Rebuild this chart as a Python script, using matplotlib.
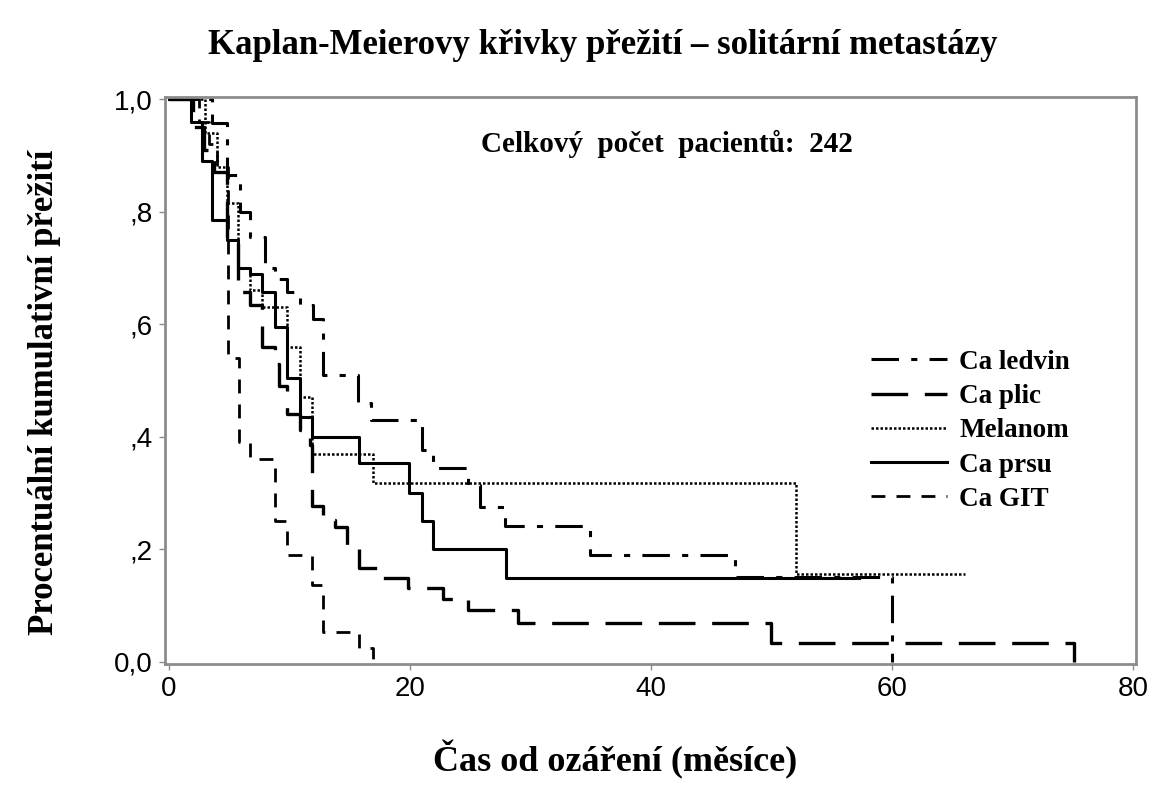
import matplotlib
matplotlib.use("Agg")
import matplotlib.pyplot as plt
from matplotlib.lines import Line2D

# Kaplan-Meier step curves: event times (months) and survival
ledvin_t = [0, 3.6, 4.8, 5.9, 6.7, 8.0, 8.8, 9.8, 10.9, 11.95, 12.8, 15.7, 16.8,
            21.0, 21.9, 24.8, 25.8, 27.9, 34.9, 47.0, 60.0]
ledvin_s = [1.0, 0.957, 0.865, 0.80, 0.755, 0.70, 0.68, 0.657, 0.635, 0.61, 0.51, 0.46, 0.43,
            0.377, 0.345, 0.315, 0.276, 0.242, 0.19, 0.151, 0.0]

plic_t = [0, 2.0, 2.9, 3.7, 4.8, 5.7, 6.7, 7.7, 8.8, 9.1, 9.8, 10.9, 11.7, 11.9, 12.8,
          13.8, 14.8, 15.8, 17.8, 19.8, 22.7, 24.8, 29.0, 50.0, 75.1]
plic_s = [1.0, 0.95, 0.91, 0.87, 0.75, 0.657, 0.634, 0.56, 0.53, 0.49, 0.44, 0.412, 0.385, 0.277, 0.252,
          0.24, 0.203, 0.167, 0.149, 0.131, 0.112, 0.092, 0.069, 0.034, 0.0]

melanom_t = [0, 3.0, 4.0, 4.8, 5.7, 6.7, 7.7, 9.8, 10.9, 11.9, 16.9, 52.0]
melanom_s = [1.0, 0.94, 0.88, 0.815, 0.70, 0.66, 0.63, 0.56, 0.47, 0.37, 0.318, 0.156]
melanom_end = 66.1

prsu_t = [0, 1.8, 2.7, 3.6, 4.8, 5.7, 6.7, 7.7, 8.8, 9.8, 10.9, 11.9, 15.8, 19.9,
          21.0, 21.9, 28.0]
prsu_s = [1.0, 0.96, 0.89, 0.785, 0.75, 0.70, 0.69, 0.657, 0.595, 0.505, 0.435, 0.40, 0.353, 0.30,
          0.25, 0.20, 0.15]
prsu_end = 57.3

git_t = [0, 2.5, 3.3, 4.0, 4.9, 5.8, 6.7, 8.8, 9.8, 11.9, 12.8, 15.8, 16.9]
git_s = [1.0, 0.96, 0.92, 0.88, 0.54, 0.39, 0.36, 0.25, 0.19, 0.137, 0.053, 0.025, 0.0]

labels = ["Ca ledvin", "Ca plic", "Melanom", "Ca prsu", "Ca GIT"]
styles = [(0, (9, 4, 2, 4)), (0, (11, 5)), (0, (1, 0.8)), "-", (0, (5, 4))]
widths = [2.2, 2.4, 1.8, 2.2, 2.0]

SERIF = "Liberation Serif"
GRAY = "#8c8c8c"

fig = plt.figure(figsize=(11.66, 8), dpi=100)
ax = fig.add_axes([165 / 1166, 1 - 664 / 800, (1136 - 165) / 1166, (664 - 97) / 800])

curves = [(ledvin_t, ledvin_s, None), (plic_t, plic_s, None),
          (melanom_t, melanom_s, melanom_end), (prsu_t, prsu_s, prsu_end),
          (git_t, git_s, None)]

for (t, s, end), ls, lw in zip(curves, styles, widths):
    tt = list(t)
    ss = list(s)
    if end is not None:
        tt.append(end)
        ss.append(ss[-1])
    ax.step(tt, ss, where="post", color="black", linestyle=ls, linewidth=lw)

ax.set_xlim(-0.33, 80.25)
ax.set_ylim(-0.0036, 1.0036)
ax.set_xticks([0, 20, 40, 60, 80])
ax.set_yticks([0, 0.2, 0.4, 0.6, 0.8, 1.0])
ax.set_yticklabels(["0,0", ",2", ",4", ",6", ",8", "1,0"])
ax.tick_params(colors=GRAY, length=4, width=1, labelcolor="black", labelsize=20, pad=5)
for lab in ax.get_xticklabels() + ax.get_yticklabels():
    lab.set_family("Liberation Sans")
for spine in ax.spines.values():
    spine.set_color(GRAY)
    spine.set_linewidth(2)

ax.text(41.3, 0.92, "Celkový  počet  pacientů:  242", ha="center", va="center",
        fontsize=21, fontweight="bold", family=SERIF)

handles = [Line2D([], [], color="black", linestyle=ls, linewidth=lw) for ls, lw in zip(styles, widths)]
leg = ax.legend(handles, labels, loc="upper left", bbox_to_anchor=(0.702, 0.597), frameon=False,
                prop={"family": SERIF, "weight": "bold", "size": 19.5}, handlelength=2.8,
                handletextpad=0.45, labelspacing=0.34, borderpad=0.4)

fig.text(603 / 1166, 1 - 45 / 800, "Kaplan-Meierovy křivky přežití – solitární metastázy",
         ha="center", va="center", fontsize=25, fontweight="bold", family=SERIF)
fig.text(615 / 1166, 1 - 760 / 800, "Čas od ozáření (měsíce)", ha="center", va="center",
         fontsize=26, fontweight="bold", family=SERIF)
fig.text(45 / 1166, 1 - 392 / 800, "Procentuální kumulativní přežití", ha="center", va="center",
         rotation=90, fontsize=25, fontweight="bold", family=SERIF)

fig.savefig("out.png", dpi=100, facecolor="white")
